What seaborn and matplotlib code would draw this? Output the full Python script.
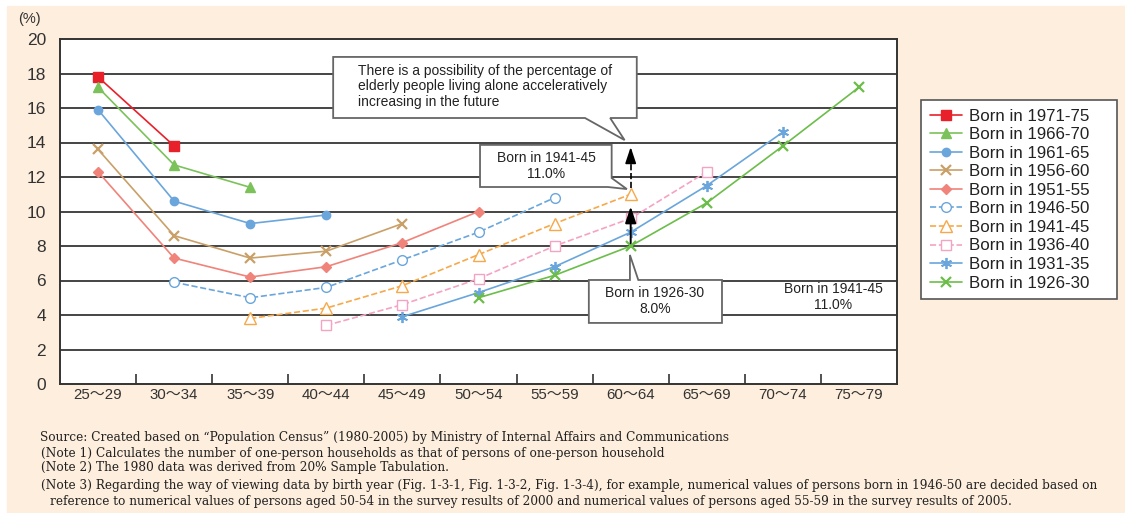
import numpy as np
import pandas as pd
import matplotlib
matplotlib.use("Agg")
import matplotlib.pyplot as plt
from matplotlib.patches import Polygon, Rectangle
import seaborn as sns

sns.set_theme(style="white")
plt.rcParams["font.family"] = ["Liberation Sans", "Noto Sans CJK JP", "DejaVu Sans"]

N = np.nan
ages = ["25〜29", "30〜34", "35〜39", "40〜44", "45〜49", "50〜54",
        "55〜59", "60〜64", "65〜69", "70〜74", "75〜79"]

# one-person household share (%) by age group, per birth cohort
born_1971_75 = [17.8, 13.8, N, N, N, N, N, N, N, N, N]
born_1966_70 = [17.2, 12.7, 11.4, N, N, N, N, N, N, N, N]
born_1961_65 = [15.9, 10.6, 9.3, 9.8, N, N, N, N, N, N, N]
born_1956_60 = [13.6, 8.6, 7.3, 7.7, 9.3, N, N, N, N, N, N]
born_1951_55 = [12.3, 7.3, 6.2, 6.8, 8.2, 10.0, N, N, N, N, N]
born_1946_50 = [N, 5.9, 5.0, 5.6, 7.2, 8.8, 10.8, N, N, N, N]
born_1941_45 = [N, N, 3.8, 4.4, 5.7, 7.5, 9.3, 11.0, N, N, N]
born_1936_40 = [N, N, N, 3.4, 4.6, 6.1, 8.0, 9.6, 12.3, N, N]
born_1931_35 = [N, N, N, N, 3.9, 5.3, 6.8, 8.8, 11.5, 14.6, N]
born_1926_30 = [N, N, N, N, N, 5.0, 6.3, 8.0, 10.5, 13.8, 17.2]

cohorts = ["Born in 1971-75", "Born in 1966-70", "Born in 1961-65", "Born in 1956-60",
           "Born in 1951-55", "Born in 1946-50", "Born in 1941-45", "Born in 1936-40",
           "Born in 1931-35", "Born in 1926-30"]
values = [born_1971_75, born_1966_70, born_1961_65, born_1956_60, born_1951_55,
          born_1946_50, born_1941_45, born_1936_40, born_1931_35, born_1926_30]

rows = []
for name, vals in zip(cohorts, values):
    for i, v in enumerate(vals):
        if not np.isnan(v):
            rows.append({"cohort": name, "pos": i, "pct": v})
df = pd.DataFrame(rows)

blue = "#6aa6dc"
styles = {
    "Born in 1971-75": dict(color="#e8202a", marker="s", ms=6.5, ls="-"),
    "Born in 1966-70": dict(color="#7bc25a", marker="^", ms=7, ls="-"),
    "Born in 1961-65": dict(color=blue, marker="o", ms=6, ls="-"),
    "Born in 1956-60": dict(color="#c9a068", marker="x", ms=7, ls="-", mew=1.6),
    "Born in 1951-55": dict(color="#f0837a", marker="D", ms=4.8, ls="-"),
    "Born in 1946-50": dict(color=blue, marker="o", ms=7, ls="--", mfc="white"),
    "Born in 1941-45": dict(color="#f6a94a", marker="^", ms=8, ls="--", mfc="white"),
    "Born in 1936-40": dict(color="#f4a3c3", marker="s", ms=7, ls="--", mfc="white"),
    "Born in 1931-35": dict(color=blue, marker=(6, 2, 0), ms=8, ls="-", mew=1.3),
    "Born in 1926-30": dict(color="#6cbd4a", marker="x", ms=7.5, ls="-", mew=1.6),
}

fig = plt.figure(figsize=(11.25, 5.13), dpi=100)
fig.patch.set_facecolor("white")
fig.add_artist(Rectangle((7 / 1125, 0), 1, 1 - 6 / 513, transform=fig.transFigure,
                         color="#fdeedd", zorder=-10))

ax = fig.add_axes([60 / 1125, 1 - 384 / 513, 837 / 1125, 345 / 513])
ax.set_facecolor("white")

for name in cohorts:
    st = dict(styles[name])
    st.setdefault("mew", 1.0)
    st.setdefault("mfc", st["color"])
    sub = df[df["cohort"] == name]
    sns.lineplot(data=sub, x="pos", y="pct", ax=ax, label=name, errorbar=None,
                 color=st["color"], marker=st["marker"], markersize=st["ms"],
                 linestyle=st["ls"], linewidth=1.2, markeredgecolor=st["color"],
                 markerfacecolor=st["mfc"], markeredgewidth=st["mew"], zorder=3)

ax.set_xlim(-0.5, 10.5)
ax.set_ylim(0, 20)
ax.set_yticks(range(0, 21, 2))
ax.set_xticks(range(len(ages)))
ax.set_xticklabels(ages)
ax.set_xticks(np.arange(0.5, 10.5, 1), minor=True)
ax.set_xlabel("")
ax.set_ylabel("")
ax.tick_params(axis="x", which="major", length=0, pad=3, labelsize=10.8, colors="#333333")
ax.tick_params(axis="x", which="minor", direction="in", length=7, width=1.2,
               color="#333333", bottom=True)
ax.tick_params(axis="y", length=0, pad=10, labelsize=12.5, colors="#333333")
for y in range(2, 20, 2):
    ax.axhline(y, color="#444444", lw=1.4, zorder=1)
for s in ax.spines.values():
    s.set_color("#333333")
    s.set_linewidth(1.4)

ax.text(-0.036, 1.058, "(%)", transform=ax.transAxes, ha="center", va="center",
        fontsize=10.5, color="#333333")


def callout(verts, lines, tx, ty, ha="center"):
    ax.add_patch(Polygon(verts, closed=True, facecolor="white", edgecolor="#666666",
                         lw=1.3, zorder=5, clip_on=False))
    ax.text(tx, ty, lines, ha=ha, va="center", fontsize=10, color="#222222",
            linespacing=1.15, zorder=6)


callout([(3.09, 18.96), (7.08, 18.96), (7.08, 15.42), (6.73, 15.42), (6.92, 14.14),
         (6.40, 15.42), (3.09, 15.42)],
        "There is a possibility of the percentage of\nelderly people living alone acceleratively\nincreasing in the future",
        3.42, 17.25, ha="left")
callout([(5.02, 13.86), (6.75, 13.86), (6.75, 11.94), (6.95, 11.3), (6.70, 11.42),
         (5.02, 11.42)],
        "Born in 1941-45\n11.0%", 5.89, 12.62)
callout([(6.45, 6.03), (6.99, 6.03), (6.99, 7.48), (7.10, 6.03), (8.20, 6.03),
         (8.20, 3.54), (6.45, 3.54)],
        "Born in 1926-30\n8.0%", 7.32, 4.8)
ax.text(9.66, 5.05, "Born in 1941-45\n11.0%", ha="center", va="center", fontsize=10,
        color="#222222", linespacing=1.15, zorder=6)

# arrows at 60~64
ax.plot([7, 7], [11.35, 13.2], color="black", ls="--", lw=1.2, zorder=4)
ax.annotate("", xy=(7, 13.9), xytext=(7, 13.0),
            arrowprops=dict(arrowstyle="-|>,head_length=0.9,head_width=0.3",
                            color="black", lw=1.2, mutation_scale=11),
            zorder=4)
ax.annotate("", xy=(7, 10.45), xytext=(7, 8.0),
            arrowprops=dict(arrowstyle="-|>,head_length=0.9,head_width=0.3",
                            color="black", lw=1.4, mutation_scale=11),
            zorder=4)

leg = ax.legend(loc="upper left", bbox_to_anchor=(1.029, 0.0, 0.234, 0.823),
                mode="expand", borderaxespad=0,
                fontsize=12.2, frameon=True, fancybox=False, framealpha=1,
                handlelength=1.9, labelspacing=0.21, borderpad=0.5, handletextpad=0.4)
leg.get_frame().set_edgecolor("#555555")
leg.get_frame().set_linewidth(1.2)
for t in leg.get_texts():
    t.set_color("#222222")

notes = [
    (40, 438, "Source: Created based on \u201cPopulation Census\u201d (1980-2005) by Ministry of Internal Affairs and Communications"),
    (37, 453, " (Note 1) Calculates the number of one-person households as that of persons of one-person household"),
    (37, 468, " (Note 2) The 1980 data was derived from 20% Sample Tabulation."),
    (37, 485, " (Note 3) Regarding the way of viewing data by birth year (Fig. 1-3-1, Fig. 1-3-2, Fig. 1-3-4), for example, numerical values of persons born in 1946-50 are decided based on"),
    (50, 501, "reference to numerical values of persons aged 50-54 in the survey results of 2000 and numerical values of persons aged 55-59 in the survey results of 2005."),
]
for x, y, s in notes:
    fig.text(x / 1125, 1 - y / 513, s, ha="left", va="center", fontsize=8.7,
             family="DejaVu Serif", color="#222222")

fig.savefig("out.png", dpi=100, facecolor=fig.get_facecolor())
